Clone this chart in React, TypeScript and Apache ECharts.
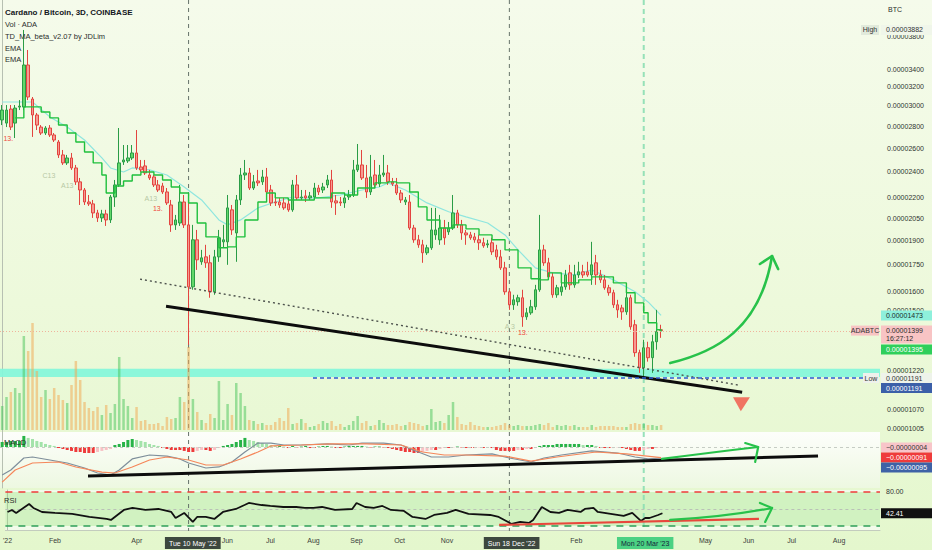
import React, { useEffect, useRef } from "react";
import * as echarts from "echarts";

// ---------- categories: 3-day candles from 1 Jan 2022 ----------
const START_UTC = Date.UTC(2022, 0, 1);
const STEP_DAYS = 3;
const N_CATEGORIES = 203;
const categories: string[] = Array.from({ length: N_CATEGORIES }, (_, i) =>
  new Date(START_UTC + i * STEP_DAYS * 86400000).toISOString().slice(0, 10)
);

// ---------- ADA/BTC prices in satoshi (1e-8 BTC) ----------
const openP = [
  2860, 2830, 2968, 2830, 2988, 2988, 3447, 3071, 2909, 2792,
  2736, 2783, 2718, 2654, 2540, 2472, 2514, 2430, 2318, 2255,
  2165, 2151, 2086, 2051, 2079, 2037, 2202, 2294, 2480, 2489,
  2514, 2557, 2438, 2447, 2373, 2357, 2294, 2286, 2240, 2143,
  2003, 2016, 2165, 2003, 1623, 1904, 1767, 1797, 1761, 1596,
  1797, 1891, 1891, 2108, 1949, 2180, 2373, 2389, 2270, 2325,
  2318, 2357, 2255, 2165, 2165, 2158, 2151, 2108, 2294, 2195,
  2210, 2195, 2202, 2270, 2255, 2294, 2333, 2173, 2165, 2158,
  2202, 2217, 2414, 2455, 2349, 2240, 2373, 2302, 2373, 2389,
  2318, 2294, 2232, 2165, 2165, 1982, 1904, 1872, 1822, 1853,
  1936, 1904, 1982, 1956, 1982, 2086, 2003, 1949, 1936, 1923,
  1904, 1885, 1872, 1885, 1840, 1797, 1731, 1596, 1527, 1543,
  1564, 1466, 1486, 1517, 1607, 1840, 1761, 1679, 1580, 1596,
  1623, 1702, 1634, 1690, 1708, 1708, 1690, 1761, 1690, 1662,
  1618, 1591, 1527, 1511, 1491, 1564, 1427, 1298, 1233, 1320,
  1276, 1347, 1403,
];
const closeP = [
  2958, 2958, 2792, 2978, 2998, 3447, 3092, 2909, 2811, 2736,
  2783, 2718, 2672, 2540, 2472, 2514, 2430, 2318, 2255, 2165,
  2151, 2086, 2051, 2079, 2037, 2202, 2294, 2472, 2497, 2514,
  2557, 2430, 2414, 2389, 2349, 2294, 2255, 2240, 2158, 2003,
  2037, 2165, 2003, 1623, 1904, 1779, 1791, 1761, 1596, 1797,
  1917, 1904, 2122, 1969, 2180, 2373, 2389, 2270, 2318, 2310,
  2357, 2240, 2158, 2158, 2143, 2122, 2108, 2294, 2195, 2202,
  2195, 2210, 2270, 2240, 2278, 2333, 2165, 2158, 2158, 2195,
  2217, 2414, 2455, 2349, 2240, 2357, 2294, 2373, 2389, 2318,
  2302, 2232, 2180, 2180, 1982, 1904, 1872, 1822, 1853, 1969,
  1969, 1982, 1917, 1982, 2086, 2003, 1949, 1936, 1917, 1904,
  1885, 1866, 1878, 1828, 1797, 1731, 1596, 1527, 1553, 1564,
  1466, 1486, 1517, 1607, 1840, 1761, 1679, 1580, 1618, 1623,
  1690, 1634, 1690, 1708, 1690, 1690, 1749, 1690, 1662, 1618,
  1591, 1527, 1501, 1491, 1564, 1417, 1298, 1233, 1320, 1276,
  1347, 1394, 1399,
];
const highP = [
  3009, 3009, 3009, 3009, 3060, 3882, 3627, 3092, 2929, 2811,
  2801, 2811, 2736, 2672, 2583, 2540, 2557, 2455, 2349, 2270,
  2217, 2180, 2108, 2108, 2108, 2217, 2333, 2783, 2627, 2627,
  2627, 2764, 2497, 2497, 2414, 2373, 2333, 2310, 2270, 2180,
  2072, 2294, 2217, 2217, 2003, 1969, 1840, 1872, 1809, 1840,
  1969, 2003, 2217, 2143, 2217, 2430, 2497, 2430, 2373, 2414,
  2414, 2430, 2294, 2217, 2195, 2195, 2180, 2333, 2373, 2255,
  2255, 2240, 2310, 2294, 2310, 2373, 2414, 2217, 2202, 2217,
  2255, 2497, 2636, 2583, 2455, 2540, 2497, 2455, 2540, 2455,
  2349, 2349, 2255, 2202, 2217, 2003, 1936, 1904, 1872, 2122,
  2122, 2072, 2037, 2023, 2217, 2108, 2037, 1969, 1956, 1949,
  1936, 1917, 1904, 1917, 1872, 1840, 1767, 1607, 1580, 1580,
  1607, 1511, 1553, 1634, 2072, 1872, 1791, 1702, 1634, 1651,
  1719, 1749, 1749, 1767, 1749, 1767, 1891, 1809, 1719, 1690,
  1634, 1607, 1553, 1527, 1596, 1580, 1451, 1311, 1356, 1347,
  1379, 1501, 1427,
];
const lowP = [
  2811, 2792, 2764, 2690, 2958, 2958, 3060, 2700, 2764, 2718,
  2718, 2700, 2654, 2514, 2455, 2455, 2414, 2294, 2143, 2143,
  2136, 2051, 2023, 2023, 1996, 2016, 2129, 2278, 2455, 2472,
  2497, 2414, 2397, 2373, 2333, 2278, 2240, 2225, 2143, 1956,
  1969, 1996, 1982, 1333, 1607, 1719, 1749, 1731, 1564, 1580,
  1767, 1853, 1749, 1936, 1767, 2143, 2333, 2255, 2255, 2286,
  2294, 2217, 2136, 2136, 2122, 2108, 2094, 2094, 2180, 2180,
  2165, 2180, 2187, 2217, 2232, 2270, 2122, 2072, 2136, 2122,
  2180, 2202, 2397, 2333, 2195, 2217, 2270, 2278, 2357, 2294,
  2286, 2217, 2158, 2143, 1969, 1885, 1853, 1761, 1809, 1840,
  1904, 1872, 1872, 1936, 1969, 1982, 1904, 1872, 1904, 1885,
  1840, 1853, 1853, 1809, 1779, 1719, 1580, 1501, 1501, 1522,
  1417, 1451, 1476, 1501, 1596, 1743, 1662, 1564, 1564, 1575,
  1607, 1607, 1618, 1673, 1673, 1679, 1634, 1634, 1645, 1607,
  1575, 1511, 1461, 1451, 1476, 1403, 1280, 1212, 1191, 1259,
  1212, 1311, 1365,
];
// volume (relative units)
const volume = [
  24, 33, 38, 42, 37, 94, 79, 107, 59, 33,
  40, 31, 42, 35, 30, 27, 45, 69, 50, 28,
  22, 19, 23, 15, 25, 17, 26, 73, 31, 24,
  12, 23, 9, 10, 6, 6, 7, 4, 13, 11,
  12, 33, 28, 83, 31, 18, 10, 7, 16, 12,
  49, 10, 26, 15, 47, 37, 24, 10, 9, 6,
  7, 5, 5, 8, 12, 9, 22, 6, 7, 11,
  7, 3, 4, 6, 9, 7, 9, 4, 6, 3,
  5, 9, 14, 7, 9, 4, 5, 10, 7, 5,
  5, 6, 4, 5, 8, 7, 6, 4, 5, 21,
  8, 9, 7, 15, 28, 13, 6, 5, 8, 5,
  4, 3, 3, 3, 4, 5, 7, 5, 4, 5,
  4, 4, 4, 5, 6, 5, 7, 3, 5, 4,
  5, 4, 5, 3, 3, 3, 5, 3, 4, 4,
  4, 4, 3, 3, 3, 6, 7, 6, 6, 5,
  5, 4, 5,
];
// MACD histogram (1e-8 BTC)
const macdHist = [
  43, 43, 52, 52, 52, 95, 78, 69, 52, 43,
  26, 17, 9, -9, -17, -26, -34, -43, -43, -52,
  -52, -52, -43, -34, -26, -17, 17, 26, 43, 60,
  69, 60, 52, 43, 26, 17, 9, -9, -17, -26,
  -26, -26, -34, -43, -43, -34, -26, -26, -34, -26,
  -9, 9, 17, 26, 43, 60, 78, 60, 52, 43,
  34, 26, 17, 9, 9, 4, -9, 9, -4, 4,
  9, -9, -9, 4, 9, 9, 4, -9, -9, 4,
  9, 9, 9, 9, 4, -4, 4, 4, -4, -9,
  -17, -26, -34, -43, -43, -52, -52, -43, -34, -26,
  -26, -17, -9, -9, -4, 4, -4, -9, -9, -9,
  -4, -9, -4, -9, -26, -34, -34, -34, -34, -26,
  -26, -17, -17, -9, 9, 17, 17, 17, 26, 26,
  26, 26, 26, 26, 17, 17, 17, 9, -9, -9,
  -9, -9, -4, -9, -17, -26, -34, -34, -26, -17,
  -17, -9, -4,
];
// [candle index, value]
const macdLine = [
  [0, -241], [2, -198], [5, -95], [7, -86], [11, -112], [15, -138], [19, -181], [22, -224], [25, -241],
  [27, -198], [30, -103], [34, -69], [38, -78], [41, -103], [43, -138], [47, -181], [50, -172], [53, -129],
  [56, -43], [59, 34], [62, 34], [65, 17], [69, 17], [75, 26], [80, 17], [83, 34], [88, 34], [92, 17],
  [96, -43], [99, -86], [103, -86], [107, -69], [113, -60], [117, -95], [122, -129], [125, -95], [129, -69],
  [136, -34], [142, -52], [146, -86], [149, -103], [152, -95],
];
const signalLine = [
  [0, -302], [3, -198], [7, -138], [13, -129], [17, -172], [23, -216], [26, -224], [30, -172], [34, -112],
  [38, -86], [43, -112], [47, -155], [51, -155], [55, -103], [59, -43], [62, 9], [69, 17], [76, 26],
  [84, 26], [92, 17], [97, -43], [102, -69], [107, -69], [116, -78], [122, -121], [128, -86], [137, -43],
  [144, -60], [152, -91],
];
const rsiLine = [
  [0, 44.7], [1, 48.3], [2, 43], [3, 48.3], [5, 58.8], [6, 51.8], [8, 44.7], [11, 43], [15, 41.2], [19, 35.9],
  [23, 32.4], [24, 30.6], [27, 48.3], [29, 51.8], [32, 48.3], [35, 50], [38, 44.7], [39, 34.1], [41, 43],
  [43, 27.1], [44, 35.9], [46, 35.9], [48, 32.4], [50, 44.7], [53, 50], [54, 53.5], [55, 57], [56, 60.6],
  [59, 57], [61, 55.3], [64, 53.5], [67, 53.5], [69, 51.8], [71, 51.8], [73, 53.5], [76, 48.3], [80, 50],
  [81, 60.6], [83, 53.5], [85, 51.8], [87, 55.3], [89, 48.3], [92, 46.5], [94, 35.9], [97, 32.4], [99, 39.4],
  [102, 43], [104, 48.3], [107, 41.2], [112, 39.4], [114, 35.9], [117, 23.6], [119, 27.1], [121, 25.3],
  [122, 30.6], [124, 53.5], [126, 44.7], [128, 43], [130, 48.3], [133, 44.7], [134, 50], [136, 51.8],
  [137, 44.7], [140, 41.2], [143, 37.7], [145, 43], [147, 28.9], [148, 34.1], [149, 34.1], [151, 39.4],
  [152, 42.41],
];
const tdLine = [
  [3, 2880], [5, 2990], [7, 2990], [9, 2938], [11, 2880], [13, 2811], [15, 2736], [17, 2654], [19, 2566],
  [21, 2472], [23, 2373], [24, 2232], [26, 2286], [28, 2325], [30, 2373], [32, 2397], [35, 2373], [37, 2333],
  [39, 2278], [41, 2232], [43, 2158], [45, 2016], [47, 1923], [50, 1853], [52, 1859], [54, 1923], [56, 2037],
  [59, 2165], [61, 2232], [63, 2195], [66, 2180], [69, 2180], [72, 2195], [76, 2232], [79, 2217], [82, 2270],
  [86, 2310], [89, 2318], [91, 2310], [94, 2240], [96, 2129], [98, 2037], [101, 1982], [104, 2003],
  [107, 1976], [110, 1936], [113, 1904], [116, 1840], [119, 1731], [122, 1668], [124, 1662], [126, 1702],
  [129, 1645], [133, 1662], [136, 1679], [141, 1645], [144, 1591], [146, 1537], [148, 1486], [149, 1437],
  [151, 1403], [152, 1395],
];
const emaLine = [
  [0, 3040], [7, 3040], [11, 2890], [15, 2792], [19, 2672], [23, 2514], [25, 2430], [28, 2397], [30, 2430],
  [34, 2414], [38, 2373], [42, 2278], [46, 2180], [50, 2037], [52, 2003], [55, 2037], [59, 2122], [63, 2165],
  [67, 2202], [69, 2195], [73, 2195], [78, 2217], [83, 2255], [87, 2278], [89, 2310], [93, 2255], [98, 2158],
  [103, 2094], [107, 2058], [112, 2016], [116, 1936], [119, 1840], [123, 1731], [127, 1702], [132, 1690],
  [136, 1719], [141, 1662], [146, 1596], [149, 1542], [152, 1473],
];
// TD sequential marks: [candle index, price, text, kind]
const tdMarks = [
  [1.4, 2690, "13.", "red"], [10.8, 2365, "C13", "muted"], [15, 2286, "A13", "muted"],
  [34.3, 2187, "A13", "muted"], [35.9, 2115, "13.", "red"], [117.1, 1417, "A 3", "muted"],
  [120.1, 1389, "13.", "red"],
];

// ---------- axis ticks / labels ----------
const priceTicks = [3800, 3400, 3200, 3000, 2800, 2600, 2400, 2200, 2050, 1900, 1750, 1600, 1500, 1220, 1070, 1005];
const monthTicks = [
  ["2022-01", "'22"], ["2022-02", "Feb"], ["2022-04", "Apr"], ["2022-06", "Jun"], ["2022-07", "Jul"],
  ["2022-08", "Aug"], ["2022-09", "Sep"], ["2022-10", "Oct"], ["2022-11", "Nov"], ["2023-02", "Feb"],
  ["2023-05", "May"], ["2023-06", "Jun"], ["2023-07", "Jul"], ["2023-08", "Aug"],
];
const markedDates = [
  ["2022-05-10", "Tue 10 May '22", "dark"],
  ["2022-12-18", "Sun 18 Dec '22", "dark"],
  ["2023-03-20", "Mon 20 Mar '23", "green"],
];

// ---------- annotations in data coordinates [candle index, value] ----------
const supportBand = [1195, 1229];
const lowLevel = 1191;
const lowLineStart = 71.7;
const trendMain = [[37.8, 1520], [170.7, 1135]];
const trendDotted = [[31.8, 1666], [169.7, 1163]];
const arrowMain = { p0: [154.1, 1253], c1: [164.4, 1300], c2: [174.8, 1403], p1: [177.6, 1802], a: [174.8, 1754], b: [179, 1724] };
const triangleDown = [[168.6, 1116], [172.5, 1116], [170.4, 1064]];
const macdTrend = [[19.8, -250], [188.2, -78]];
const macdArrow = { p0: [152.2, -103], c: [164.4, -43], p1: [174.4, 0], a: [171.4, 34], b: [173.7, -129] };
const rsiRed = [[114.1, 21.8], [174.4, 32.4]];
const rsiArrow = { p0: [154.1, 30.6], c: [166.7, 35.9], p1: [177.6, 51.8], a: [174.8, 60.6], b: [176, 27.1] };

const FONT = "Liberation Sans, Arial, sans-serif";

function fmtPrice(sat: number) {
  return (sat * 1e-8).toFixed(8);
}

export default function App() {
  const ref = useRef<HTMLDivElement | null>(null);
  useEffect(() => {
    const el = ref.current;
    if (!el) return;
    const chart = echarts.init(el, null, { renderer: "svg" });
    const L = Math.log;

    const candleData = openP.map((o, i) => [L(o), L(closeP[i]), L(lowP[i]), L(highP[i])]);
    const isUp = (i: number) => closeP[i] >= openP[i];
    const volData = volume.map((v, i) => ({
      value: v,
      itemStyle: { color: isUp(i) ? "rgba(70,196,88,0.5)" : "rgba(240,172,88,0.55)" },
    }));
    const histData = macdHist.map((v, i) => {
      const prev = i > 0 ? macdHist[i - 1] : v;
      const color = v >= 0 ? (v >= prev ? "#27b347" : "#a3e3aa") : v <= prev ? "#ee3b3b" : "#f7c2c5";
      return { value: v, itemStyle: { color } };
    });

    const labelMap = new Map<number, string>();
    for (const [m, t] of monthTicks) {
      const i = categories.findIndex((c) => c.startsWith(m));
      if (i >= 0) labelMap.set(i, t);
    }
    const marks = markedDates.map(([d, t, s]) => {
      const target = Date.parse(d);
      let best = 0;
      let bd = Infinity;
      categories.forEach((c, i) => {
        const dd = Math.abs(Date.parse(c) - target);
        if (dd < bd) { bd = dd; best = i; }
      });
      return { i: best, t, s };
    });
    marks.forEach((m) => labelMap.set(m.i, `{${m.s}|${m.t}}`));

    const hiddenCat = (g: number) => ({ type: "category", gridIndex: g, data: categories, boundaryGap: true, show: false });
    const hiddenVal = (g: number) => ({ type: "value", gridIndex: g, min: -0.5, max: N_CATEGORIES - 0.5, show: false });
    const axisLineStyle = { show: true, lineStyle: { color: "#b7c0b2", width: 1 } };

    const lineSeries = (xi: number, yi: number, data: any, style: any, z = 4, extra: any = {}) => ({
      type: "line", xAxisIndex: xi, yAxisIndex: yi, data, symbol: "none", silent: true,
      lineStyle: style, z, animation: false, ...extra,
    });

    const option: any = {
      animation: false,
      textStyle: { fontFamily: FONT },
      grid: [
        { left: 0, right: 52, top: 0, height: 432 },
        { left: 0, right: 52, top: 300, height: 130 },
        {
          left: 0, right: 52, top: 432, height: 56, show: true, borderWidth: 0,
          backgroundColor: new echarts.graphic.LinearGradient(0, 0, 0, 1, [
            { offset: 0, color: "#fdfefb" }, { offset: 1, color: "#edf8e1" },
          ]),
        },
        {
          left: 0, right: 52, top: 490, height: 40, show: true, borderWidth: 0,
          backgroundColor: "#f2fbea",
        },
      ],
      xAxis: [
        hiddenCat(0), hiddenCat(1), hiddenCat(2),
        {
          type: "category", gridIndex: 3, data: categories, boundaryGap: true,
          axisLine: { show: true, lineStyle: { color: "#c3ccbe" } },
          axisTick: { show: false }, splitLine: { show: false },
          axisLabel: {
            interval: (i: number) => labelMap.has(i),
            formatter: (_v: string, i: number) => labelMap.get(i) ?? "",
            fontSize: 7, color: "#3a403b", margin: 7, fontFamily: FONT,
            rich: {
              dark: { backgroundColor: "#3d483f", color: "#ffffff", padding: [3, 4, 2, 4], fontSize: 7, fontFamily: FONT },
              green: { backgroundColor: "#4bd183", color: "#15243a", padding: [3, 4, 2, 4], fontSize: 7, fontFamily: FONT },
            },
          },
        },
        hiddenVal(0), hiddenVal(2), hiddenVal(3),
      ],
      yAxis: [
        {
          type: "value", gridIndex: 0, position: "right", min: L(991.5), max: L(4298),
          splitLine: { show: false }, axisLine: axisLineStyle, axisTick: { show: false },
          axisLabel: {
            customValues: priceTicks.map((p) => L(p)),
            formatter: (v: number) => fmtPrice(Math.round(Math.exp(v))),
            fontSize: 7, color: "#2f3531", margin: 7, fontFamily: FONT,
          },
        },
        { type: "value", gridIndex: 1, min: 0, max: 130, show: false },
        {
          type: "value", gridIndex: 2, position: "right", min: -353, max: 129,
          splitLine: { show: false }, axisLine: axisLineStyle, axisTick: { show: false }, axisLabel: { show: false },
        },
        {
          type: "value", gridIndex: 3, position: "right", min: 12.9, max: 83.5,
          splitLine: { show: false }, axisLine: axisLineStyle, axisTick: { show: false }, axisLabel: { show: false },
        },
      ],
      series: [
        // volume
        { type: "bar", xAxisIndex: 1, yAxisIndex: 1, data: volData, barWidth: 2.5, z: 1, silent: true },
        // support band
        {
          type: "line", xAxisIndex: 4, yAxisIndex: 0, data: [], z: 2, silent: true,
          markArea: {
            silent: true, itemStyle: { color: "rgba(132,246,218,0.93)" },
            data: [[{ yAxis: L(supportBand[0]) }, { yAxis: L(supportBand[1]) }]],
          },
        },
        lineSeries(4, 0, emaLine.map(([i, p]) => [i, L(p)]), { color: "#8fe6df", width: 1.2 }, 3),
        {
          type: "candlestick", xAxisIndex: 0, yAxisIndex: 0, data: candleData, barWidth: 3, z: 4,
          itemStyle: { color: "#62d86a", color0: "#f79a92", borderColor: "#2a9c46", borderColor0: "#e3443f", borderWidth: 1 },
          markLine: {
            silent: true, symbol: ["none", "none"], label: { show: false },
            lineStyle: { color: "#f0b39c", type: [1, 2], width: 1 },
            data: [{ yAxis: L(closeP[closeP.length - 1]) }],
          },
        },
        lineSeries(4, 0, tdLine.map(([i, p]) => [i, L(p)]), { color: "#1fc03d", width: 1.4 }, 5, { step: "end" }),
        lineSeries(4, 0, trendDotted.map(([i, p]) => [i, L(p)]), { color: "#4d524d", width: 1.4, type: [2, 3] }, 6),
        lineSeries(4, 0, trendMain.map(([i, p]) => [i, L(p)]), { color: "#0d0d0d", width: 3 }, 6),
        lineSeries(4, 0, [[lowLineStart, L(lowLevel)], [N_CATEGORIES - 0.5, L(lowLevel)]], { color: "#2c5bd3", width: 1.5, type: [4, 3] }, 6),
        // MACD
        {
          type: "bar", xAxisIndex: 2, yAxisIndex: 2, data: histData, barWidth: 3, z: 2, silent: true,
          markLine: {
            silent: true, symbol: ["none", "none"], label: { show: false },
            lineStyle: { color: "#c6ccc4", type: [3, 3], width: 1 }, data: [{ yAxis: 0 }],
          },
        },
        lineSeries(5, 2, macdLine, { color: "#7e8e9b", width: 1.2 }, 4),
        lineSeries(5, 2, signalLine, { color: "#f5875a", width: 1.2 }, 4),
        lineSeries(5, 2, macdTrend, { color: "#0d0d0d", width: 3 }, 6),
        // RSI
        {
          type: "line", xAxisIndex: 6, yAxisIndex: 3, data: rsiLine, symbol: "none", silent: true, z: 5,
          lineStyle: { color: "#111111", width: 1.8 },
          markArea: {
            silent: true, itemStyle: { color: "rgba(150,226,118,0.35)" },
            data: [[{ yAxis: 20 }, { yAxis: 80 }]],
          },
          markLine: {
            silent: true, symbol: ["none", "none"], label: { show: false },
            data: [
              { yAxis: 80, lineStyle: { color: "#ef3b3b", type: [7, 6], width: 1.5 } },
              { yAxis: 50, lineStyle: { color: "#b9c1b7", type: [3, 3], width: 1 } },
              { yAxis: 20, lineStyle: { color: "#2e9f58", type: [7, 6], width: 1.5 } },
            ],
          },
        },
        lineSeries(6, 3, rsiRed, { color: "#e8473c", width: 2.2 }, 6),
      ],
    };

    chart.setOption(option);

    const X = (i: number) => chart.convertToPixel({ xAxisIndex: 4 }, i) as number;
    const YP = (p: number) => chart.convertToPixel({ yAxisIndex: 0 }, Math.log(p)) as number;
    const YM = (v: number) => chart.convertToPixel({ yAxisIndex: 2 }, v) as number;
    const YR = (v: number) => chart.convertToPixel({ yAxisIndex: 3 }, v) as number;

    const g: any[] = [];
    // vertical date lines
    marks.forEach((m) => {
      const x = X(m.i);
      g.push({
        type: "line", z: 1, silent: true,
        shape: { x1: x, y1: 0, x2: x, y2: 531 },
        style: m.s === "green"
          ? { stroke: "rgba(140,222,178,0.9)", lineWidth: 2, lineDash: [5, 4] }
          : { stroke: "#66736a", lineWidth: 1, lineDash: [4, 4] },
      });
    });

    // TD sequential marks
    tdMarks.forEach(([i, p, text, kind]: any) => {
      g.push({
        type: "text", z: 8, silent: true, x: X(i), y: YP(p),
        style: {
          text, fontSize: 7, fontFamily: FONT, align: "center", verticalAlign: "middle",
          fill: kind === "red" ? "#ef4a3c" : "#b7c8a4",
        },
      });
    });

    const GREEN = "#27c24a";
    const curve = (a: any, Y: (v: number) => number, width: number) => {
      const shape: any = { x1: X(a.p0[0]), y1: Y(a.p0[1]), x2: X(a.p1[0]), y2: Y(a.p1[1]) };
      if (a.c1) {
        shape.cpx1 = X(a.c1[0]); shape.cpy1 = Y(a.c1[1]);
        shape.cpx2 = X(a.c2[0]); shape.cpy2 = Y(a.c2[1]);
      } else {
        shape.cpx1 = X(a.c[0]); shape.cpy1 = Y(a.c[1]);
      }
      g.push({ type: "bezierCurve", z: 20, silent: true, shape, style: { stroke: GREEN, lineWidth: width, fill: null, lineCap: "round" } });
      g.push({
        type: "polyline", z: 20, silent: true,
        shape: { points: [[X(a.a[0]), Y(a.a[1])], [X(a.p1[0]), Y(a.p1[1])], [X(a.b[0]), Y(a.b[1])]] },
        style: { stroke: GREEN, lineWidth: width, fill: null, lineCap: "round", lineJoin: "round" },
      });
    };
    curve(arrowMain, YP, 2.6);
    curve(macdArrow, YM, 2.2);
    curve(rsiArrow, YR, 2.2);
    g.push({
      type: "polygon", z: 20, silent: true,
      shape: { points: triangleDown.map(([i, p]) => [X(i), YP(p)]) },
      style: { fill: "#f07462" },
    });

    // right-hand value tags
    const tag = (y: number, text: string, bg: string | null, fg: string, h = 10) => {
      if (bg) g.push({ type: "rect", z: 100, silent: true, shape: { x: 881, y: y - 5, width: 51, height: h }, style: { fill: bg } });
      g.push({ type: "text", z: 101, silent: true, x: 886, y, style: { text, fill: fg, fontSize: 7, fontFamily: FONT, verticalAlign: "middle" } });
    };
    const leftTag = (y: number, x0: number, text: string, bg: string) => {
      g.push({ type: "rect", z: 100, silent: true, shape: { x: x0, y: y - 5, width: 879 - x0, height: 10 }, style: { fill: bg } });
      g.push({ type: "text", z: 101, silent: true, x: (x0 + 879) / 2, y, style: { text, fill: "#333", fontSize: 7, fontFamily: FONT, verticalAlign: "middle", align: "center" } });
    };
    const lastClose = closeP[closeP.length - 1];
    const lastTd = tdLine[tdLine.length - 1][1];
    const lastEma = emaLine[emaLine.length - 1][1];
    const hi = Math.max(...highP);
    const lo = Math.min(...lowP);
    tag(YP(hi), fmtPrice(hi), "#f0f6ea", "#333");
    leftTag(YP(hi), 861, "High", "#e1eadb");
    tag(YP(lastEma), fmtPrice(lastEma), "#8ef0dc", "#1b2b2a");
    tag(YP(lastClose), fmtPrice(lastClose), "#f8c4c4", "#2a2a2a", 18);
    g.push({ type: "text", z: 101, silent: true, x: 886, y: YP(lastClose) + 8, style: { text: "16:27:12", fill: "#2a2a2a", fontSize: 7, fontFamily: FONT, verticalAlign: "middle" } });
    leftTag(YP(lastClose), 851, "ADABTC", "#f8c4c4");
    tag(YP(lastClose) + 19, fmtPrice(lastTd), "#2fcf5b", "#ffffff");
    tag(YP(lo), fmtPrice(lo), "#eef3ea", "#333");
    leftTag(YP(lo), 863, "Low", "#eef1ec");
    tag(YP(lo) + 10, fmtPrice(lowLevel), "#3b5fa8", "#ffffff");
    const lastHist = macdHist[macdHist.length - 1];
    const lastSignal = signalLine[signalLine.length - 1][1];
    const lastMacd = macdLine[macdLine.length - 1][1];
    const fmtMacd = (v: number) => (v < 0 ? "\u2212" : "") + (Math.abs(v) * 1e-8).toFixed(8);
    tag(YM(lastHist), fmtMacd(lastHist), "#f8c5c9", "#333");
    tag(YM(lastSignal), fmtMacd(lastSignal), "#ef3b3b", "#ffffff");
    tag(YM(lastSignal) + 10, fmtMacd(lastMacd), "#3e62a6", "#ffffff");
    tag(YR(80), "80.00", null, "#333");
    const lastRsi = rsiLine[rsiLine.length - 1][1];
    tag(YR(lastRsi), lastRsi.toFixed(2), "#111111", "#ffffff");

    // header texts
    const txt = (x: number, y: number, text: string, opts: any = {}) =>
      g.push({ type: "text", z: 101, silent: true, x, y, style: { text, fill: "#2a2e2b", fontSize: 7.5, fontFamily: FONT, verticalAlign: "middle", ...opts } });
    txt(5, 12, "Cardano / Bitcoin, 3D, COINBASE", { fontWeight: "bold", fill: "#131722", fontSize: 8 });
    txt(5, 24, "Vol \u00b7 ADA");
    txt(5, 36, "TD_MA_beta_v2.07 by JDLim");
    txt(5, 48, "EMA");
    txt(5, 59, "EMA");
    txt(4, 442, "MACD");
    txt(4, 500, "RSI");
    txt(888, 9, "BTC", { fontSize: 7 });

    chart.setOption({ graphic: { elements: g } });

    return () => chart.dispose();
  }, []);

  return (
    <div
      ref={ref}
      style={{
        position: "fixed", left: 0, top: 0, width: 932, height: 550,
        background: "linear-gradient(180deg, #f5fbeb 0%, #edf9db 55%, #e4f7cd 100%)",
      }}
    />
  );
}
